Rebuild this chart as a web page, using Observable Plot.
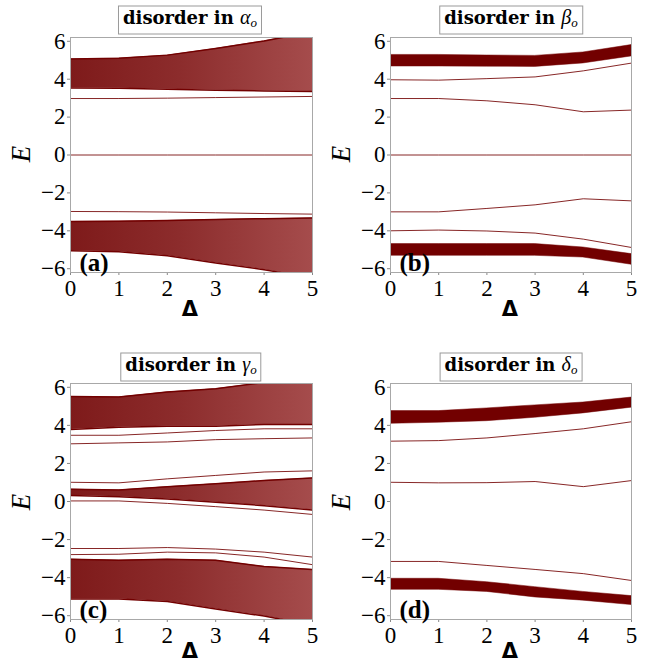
<!DOCTYPE html>
<html>
<head>
<meta charset="utf-8">
<script src="https://cdn.jsdelivr.net/npm/d3@7"></script>
<script src="https://cdn.jsdelivr.net/npm/@observablehq/plot@0.6"></script>
<style>
  html, body { margin: 0; padding: 0; background: #fff; }
  #wrap { position: relative; width: 647px; height: 664px; overflow: hidden; background: #fff; }
  .panel { position: absolute; }
  .panel svg text { font-family: "Liberation Serif", serif !important; }
  .title { position: absolute; transform: translate(-50%, -50%); border: 1px solid #9a9a9a; background: #fff;
           font-family: "DejaVu Serif", serif; font-weight: bold; font-size: 18px; padding: 1px 4px 2px 4px; white-space: nowrap; line-height: 19px; }
  .title i { font-weight: normal; font-family: "Liberation Serif", serif; font-size: 20px; }
  .title sub { font-weight: normal; font-style: italic; font-family: "Liberation Serif", serif; font-size: 13px; vertical-align: -3px; }
  .ylab { position: absolute; transform: translate(-50%, -50%) rotate(-90deg); font-family: "Liberation Serif", serif; font-style: italic; font-size: 27px; }
  .xlab { position: absolute; transform: translate(-50%, -50%); font-family: "DejaVu Sans", sans-serif; font-weight: bold; font-size: 21px; line-height: 22px; }
</style>
</head>
<body>
<div id="wrap"></div>
<script>
// ---------- data ----------
const delta = [0, 1, 2, 3, 4, 5];
const xTicks = [0, 1, 2, 3, 4, 5];
const yTicks = [-6, -4, -2, 0, 2, 4, 6];

// (a) disorder in alpha_o
const aBandUpTop = [5.06, 5.11, 5.27, 5.62, 6.02, 6.5];
const aBandUpBot = [3.53, 3.52, 3.47, 3.42, 3.38, 3.35];
const aBandLoTop = [-3.51, -3.50, -3.45, -3.40, -3.36, -3.33];
const aBandLoBot = [-5.05, -5.10, -5.32, -5.70, -6.05, -6.5];
const aLine1 = [2.98, 2.98, 3.00, 3.03, 3.06, 3.09];
const aLine2 = [0, 0, 0, 0, 0, 0];
const aLine3 = [-2.98, -2.99, -3.01, -3.05, -3.09, -3.12];

// (b) disorder in beta_o
const bBandUpTop = [5.28, 5.28, 5.25, 5.23, 5.41, 5.80];
const bBandUpBot = [4.67, 4.67, 4.66, 4.65, 4.83, 5.20];
const bBandLoTop = [-4.70, -4.70, -4.70, -4.70, -4.88, -5.23];
const bBandLoBot = [-5.32, -5.32, -5.32, -5.32, -5.41, -5.79];
const bLine1 = [3.97, 3.95, 4.03, 4.12, 4.44, 4.85];
const bLine2 = [2.98, 2.98, 2.86, 2.65, 2.28, 2.37];
const bLine3 = [0, 0, 0, 0, 0, 0];
const bLine4 = [-3.00, -3.00, -2.82, -2.63, -2.31, -2.42];
const bLine5 = [-4.00, -3.96, -4.01, -4.12, -4.44, -4.88];

// (c) disorder in gamma_o
const cBandUpTop = [5.52, 5.49, 5.75, 5.93, 6.25, 6.6];
const cBandUpBot = [3.78, 3.90, 3.96, 3.96, 4.05, 4.05];
const cBandMidTop = [0.65, 0.60, 0.78, 0.93, 1.10, 1.23];
const cBandMidBot = [0.31, 0.25, 0.13, -0.04, -0.22, -0.45];
const cBandLoTop = [-3.04, -3.09, -3.04, -3.09, -3.42, -3.57];
const cBandLoBot = [-5.12, -5.12, -5.26, -5.65, -6.02, -6.5];
const cLine1 = [3.48, 3.48, 3.60, 3.73, 3.82, 3.82];
const cLine2 = [3.03, 3.08, 3.13, 3.25, 3.30, 3.34];
const cLine3 = [1.01, 0.98, 1.19, 1.37, 1.55, 1.61];
const cLine4 = [0.03, 0.03, -0.10, -0.27, -0.45, -0.68];
const cLine5 = [-2.47, -2.47, -2.42, -2.50, -2.66, -2.92];
const cLine6 = [-2.79, -2.77, -2.66, -2.70, -2.92, -3.32];

// (d) disorder in delta_o
const dBandUpTop = [4.75, 4.75, 4.89, 5.05, 5.20, 5.46];
const dBandUpBot = [4.08, 4.14, 4.22, 4.40, 4.63, 4.93];
const dBandLoTop = [-4.06, -4.06, -4.24, -4.50, -4.75, -4.97];
const dBandLoBot = [-4.64, -4.64, -4.75, -5.04, -5.21, -5.44];
const dLine1 = [3.17, 3.20, 3.34, 3.57, 3.82, 4.19];
const dLine2 = [1.01, 0.98, 0.99, 1.05, 0.78, 1.10];
const dLine3 = [-3.15, -3.15, -3.36, -3.57, -3.79, -4.15];

// ---------- helpers ----------
const RED = "#720000";
const FAN = "#8b2b2b";
const band = (top, bot) => delta.map((x, i) => ({x, y1: bot[i], y2: top[i]}));
const pts = (vals) => delta.map((x, i) => ({x, y: vals[i]}));

function panel({left, top, height, marginTop, marginBottom, marginRight, fans, solids, lines, letter}) {
  const marks = [];
  for (const [t, b] of fans) {
    marks.push(Plot.areaY(band(t, b), {x: "x", y1: "y1", y2: "y2", fill: FAN, clip: true}));
    marks.push(Plot.line(pts(t), {x: "x", y: "y", stroke: RED, strokeWidth: 1.5, clip: true}));
    marks.push(Plot.line(pts(b), {x: "x", y: "y", stroke: RED, strokeWidth: 1.5, clip: true}));
  }
  for (const [t, b] of solids) {
    marks.push(Plot.areaY(band(t, b), {x: "x", y1: "y1", y2: "y2", fill: RED, stroke: RED, strokeWidth: 0.5, clip: true}));
  }
  for (const l of lines) {
    marks.push(Plot.line(pts(l), {x: "x", y: "y", stroke: RED, strokeWidth: 1, strokeOpacity: 0.85, clip: true}));
  }
  marks.push(Plot.frame({stroke: "#a8a8a8", strokeWidth: 1}));
  marks.push(Plot.text([letter], {frameAnchor: "bottom-left", text: d => d, textAnchor: "start", lineAnchor: "bottom",
    dx: 9, dy: -2, fontSize: 25, fontWeight: "bold", fontFamily: "Liberation Serif", fill: "black"}));

  const svg = Plot.plot({
    width: 323, height,
    marginLeft: 70, marginRight, marginTop, marginBottom,
    style: {fontFamily: "Liberation Serif", fontSize: "23px", color: "black", background: "transparent", overflow: "visible"},
    x: {domain: [0, 5], ticks: xTicks, tickFormat: d3.format("d"), tickSize: 3, tickPadding: 4, label: null},
    y: {domain: [-6.2, 6.2], ticks: yTicks, tickFormat: d => (d < 0 ? "\u2212" : "") + Math.abs(d), tickSize: 3, tickPadding: 2, label: null},
    marks
  });
  const id = "fan" + letter.replace(/[()]/g, "");
  const ns = "http://www.w3.org/2000/svg";
  const defs = document.createElementNS(ns, "defs");
  defs.innerHTML = `<linearGradient id="${id}" x1="0" y1="0" x2="1" y2="0">
      <stop offset="0" stop-color="#7e1a1a"/>
      <stop offset="0.45" stop-color="#8c2c2c"/>
      <stop offset="1" stop-color="#a54c4c"/>
    </linearGradient>`;
  svg.insertBefore(defs, svg.firstChild);
  svg.querySelectorAll(`[fill="${FAN}"]`).forEach(el => el.setAttribute("fill", `url(#${id})`));
  svg.querySelectorAll('[aria-label*="axis"] line, [aria-label*="axis"] path').forEach(el => el.setAttribute("stroke", "#888"));
  svg.querySelectorAll("text").forEach(el => el.setAttribute("font-family", "Liberation Serif, serif"));
  const div = document.createElement("div");
  div.className = "panel";
  div.style.left = left + "px";
  div.style.top = top + "px";
  div.appendChild(svg);
  document.getElementById("wrap").appendChild(div);
}

panel({left: 0, top: 0, height: 330, marginTop: 37, marginBottom: 58, marginRight: 11,
  fans: [[aBandUpTop, aBandUpBot], [aBandLoTop, aBandLoBot]], solids: [],
  lines: [aLine1, aLine2, aLine3], letter: "(a)"});
panel({left: 320, top: 0, height: 330, marginTop: 37, marginBottom: 58, marginRight: 12,
  fans: [], solids: [[bBandUpTop, bBandUpBot], [bBandLoTop, bBandLoBot]],
  lines: [bLine1, bLine2, bLine3, bLine4, bLine5], letter: "(b)"});
panel({left: 0, top: 330, height: 334, marginTop: 53, marginBottom: 45, marginRight: 11,
  fans: [[cBandUpTop, cBandUpBot], [cBandMidTop, cBandMidBot], [cBandLoTop, cBandLoBot]], solids: [],
  lines: [cLine1, cLine2, cLine3, cLine4, cLine5, cLine6], letter: "(c)"});
panel({left: 320, top: 330, height: 334, marginTop: 53, marginBottom: 45, marginRight: 12,
  fans: [], solids: [[dBandUpTop, dBandUpBot], [dBandLoTop, dBandLoBot]],
  lines: [dLine1, dLine2, dLine3], letter: "(d)"});

// ---------- text overlays ----------
const wrap = document.getElementById("wrap");
function addEl(cls, html, x, y) {
  const el = document.createElement("div");
  el.className = cls; el.innerHTML = html;
  el.style.left = x + "px"; el.style.top = y + "px";
  wrap.appendChild(el);
}
const titles = [
  ["disorder in <i>α</i><sub>o</sub>", 190, 20],
  ["disorder in <i>β</i><sub>o</sub>", 511, 20],
  ["disorder in <i>γ</i><sub>o</sub>", 191, 367],
  ["disorder in <i>δ</i><sub>o</sub>", 511, 367]
];
titles.forEach(([t, x, y]) => addEl("title", t, x, y));
[[21, 154], [341, 154], [21, 502], [341, 502]].forEach(([x, y]) => addEl("ylab", "E", x, y));
[[190, 309], [510, 309], [190, 651], [510, 651]].forEach(([x, y]) => addEl("xlab", "Δ", x, y));
</script>
</body>
</html>
